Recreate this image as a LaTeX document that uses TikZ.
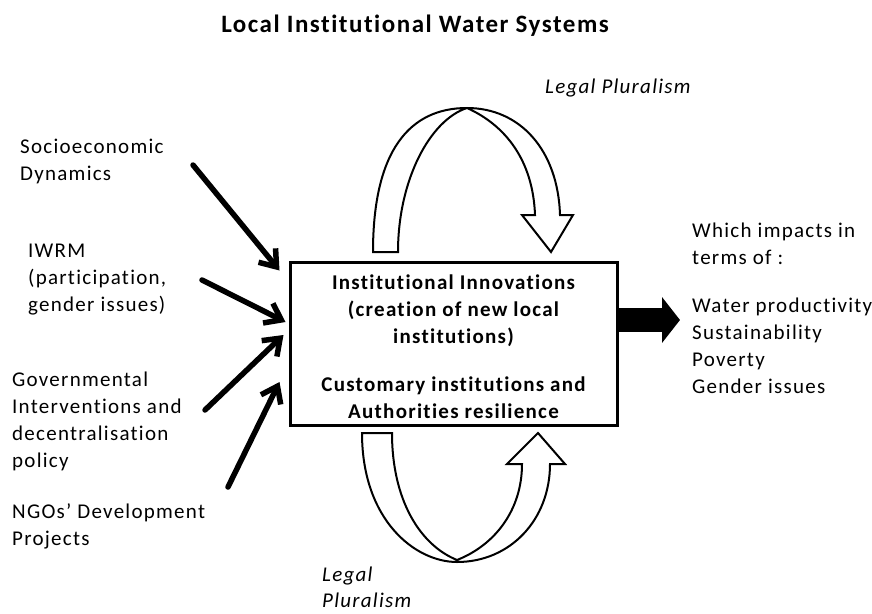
\documentclass[tikz,border=0pt]{standalone}
\usepackage{fontspec}
\setmainfont{Carlito}[LetterSpace=6, Ligatures={NoCommon}, RawFeature={-liga;-clig;-dlig}]
\usetikzlibrary{arrows.meta}
\begin{document}
\begin{tikzpicture}[x=1pt,y=-1pt,
  lbl/.style={anchor=north west, inner sep=0pt, align=left, font=\fontsize{21}{27}\selectfont},
  box/.style={draw, line width=3pt, minimum width=327pt, minimum height=163pt, inner sep=0pt, align=center, font=\bfseries\fontsize{21}{27}\selectfont},
  inarrow/.style={line width=5.5pt, line cap=round, -{Straight Barb[length=15pt,width=22pt]}},
  curvearrow/.style={draw, line width=2pt, line join=miter, fill=white}]
\useasboundingbox (0,0) rectangle (872,613);

% title
\node[anchor=base, inner sep=0pt, font=\bfseries\fontsize{25}{29}\selectfont] (title) at (415,32) {Local Institutional Water Systems};

% central box
\node[box] (box) at (453.5,343.5) {\rule{0pt}{22pt}Institutional Innovations\\(creation of new local\\institutions)\\[21pt]Customary institutions and\\Authorities resilience};

% left labels
\node[lbl] (socio) at (20,134.1) {\strut Socioeconomic\\Dynamics};
\node[lbl] (iwrm) at (28,238.1) {\strut IWRM\\(participation,\\gender issues)};
\node[lbl] (gov) at (12,367.1) {\strut Governmental\\Interventions and\\decentralisation\\policy};
\node[lbl] (ngo) at (12,499.1) {\strut NGOs’ Development\\Projects};

% right label
\node[lbl] (impacts) at (692,218.1) {\strut Which impacts in\\terms of :\\[21pt]Water productivity\\Sustainability\\Poverty\\Gender issues};

% legal pluralism labels
\node[anchor=base west, inner sep=0pt, font=\itshape\fontsize{21}{27}\selectfont] (lp1) at (545,93) {Legal Pluralism};
\node[lbl, font=\itshape\fontsize{21}{26}\selectfont] (lp2) at (322,563.1) {\strut Legal\\Pluralism};

% input arrows
\coordinate (s1) at (193,165);
\coordinate (s2) at (202,280);
\coordinate (s3) at (205,410);
\coordinate (s4) at (228,487);
\draw[inarrow] (s1) -- ([shift={(-9,10)}]box.north west);
\draw[inarrow] (s2) -- ([shift={(-3,-21.5)}]box.west);
\draw[inarrow] (s3) -- ([shift={(-5,-8.5)}]box.west);
\draw[inarrow] (s4) -- ([shift={(-9,38.5)}]box.west);

% output arrow
\coordinate (rt) at ([shift={(0,-23.5)}]box.east);
\coordinate (rtend) at (680,320);
\draw[line width=24pt, -{Triangle[length=18pt,width=45pt]}] (rt) -- (rtend);

% top curved arrow
\path[curvearrow] (373,252) .. controls (373,150) and (410,108) .. (467,108)
  .. controls (520,108) and (558,150) .. (560,215)
  -- (573,215) -- (551,252) -- (522,215) -- (535,215)
  .. controls (533,160) and (505,125) .. (467,108)
  .. controls (430,120) and (398,180) .. (398,252) -- cycle;

% bottom curved arrow
\path[curvearrow] (362,433) .. controls (362,520) and (415,562) .. (457,562)
  .. controls (510,562) and (550,520) .. (550,464)
  -- (565,464) -- (538,433) -- (507,464) -- (522,464)
  .. controls (522,510) and (495,545) .. (457,560)
  .. controls (420,545) and (392,500) .. (392,433) -- cycle;
\end{tikzpicture}
\end{document}
